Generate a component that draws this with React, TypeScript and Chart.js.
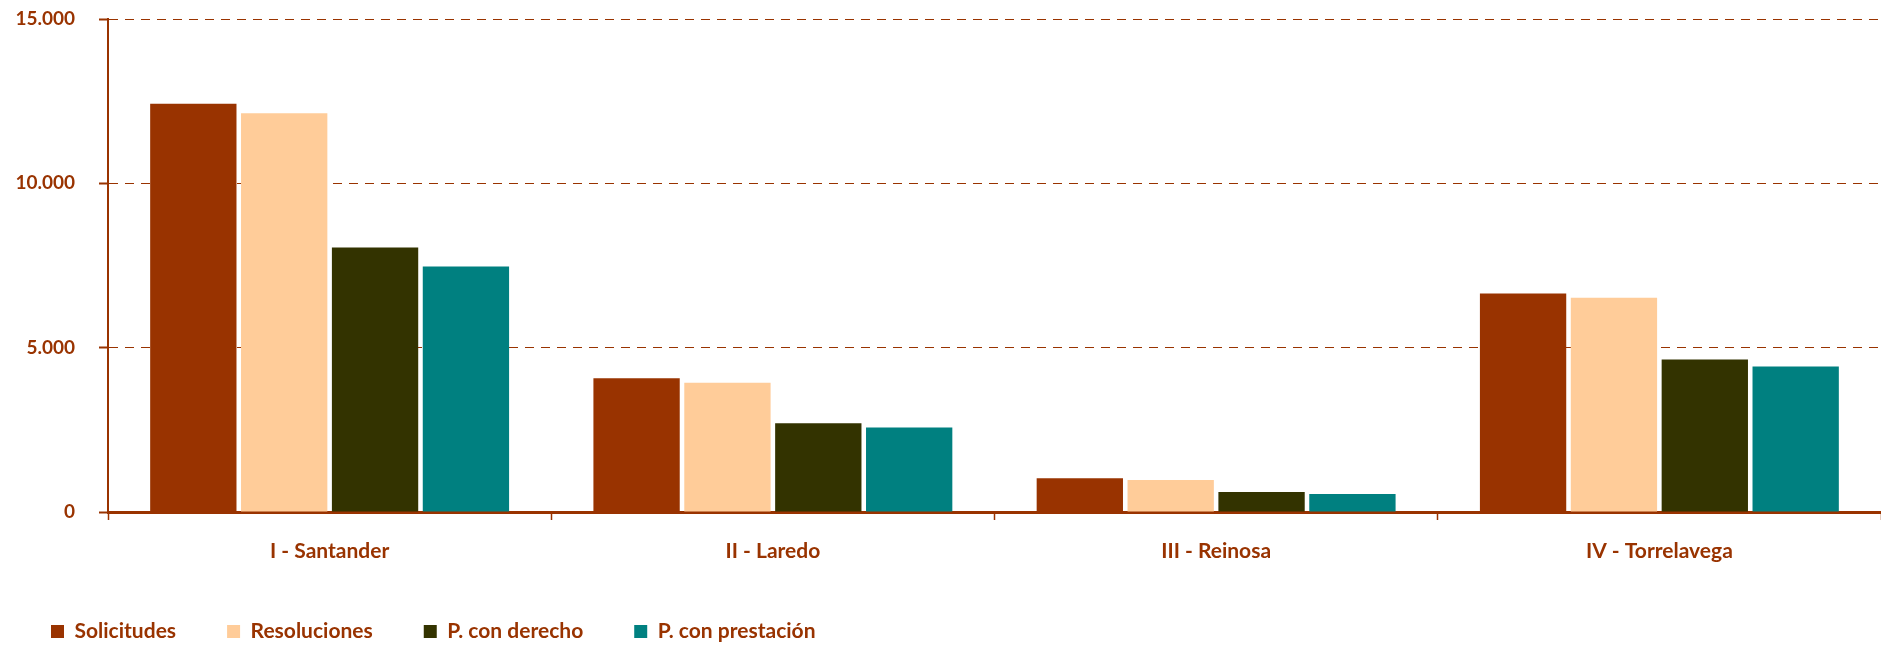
import React, { useEffect, useRef } from 'react';
import { Chart, registerables } from 'chart.js';

Chart.register(...registerables);

const categories = ['I - Santander', 'II - Laredo', 'III - Reinosa', 'IV - Torrelavega'];
const seriesNames = ['Solicitudes', 'Resoluciones', 'P. con derecho', 'P. con prestación'];
const solicitudes = [12420, 4070, 1030, 6650];
const resoluciones = [12130, 3930, 970, 6520];
const conDerecho = [8050, 2700, 610, 4640];
const conPrestacion = [7470, 2570, 550, 4430];
const yMax = 15000;
const yStep = 5000;

const seriesColors = ['#993300', '#FFCC99', '#333300', '#008080'];
const BROWN = '#993300';
const FONT = "Lato, 'Open Sans', sans-serif";

const fmt = (v: number) => String(v).replace(/\B(?=(\d{3})+(?!\d))/g, '.');

export default function App() {
  const ref = useRef<HTMLCanvasElement | null>(null);

  useEffect(() => {
    if (!ref.current) return;
    const values = [solicitudes, resoluciones, conDerecho, conPrestacion];
    const chart = new Chart(ref.current, {
      type: 'bar',
      data: {
        labels: categories,
        datasets: seriesNames.map((name, i) => ({
          label: name,
          data: values[i],
          backgroundColor: seriesColors[i],
          borderWidth: 0,
          barPercentage: 0.95,
          categoryPercentage: 0.82,
        })),
      },
      options: {
        responsive: false,
        animation: false,
        layout: { padding: { top: 19, right: 0, left: 0, bottom: 0 } },
        plugins: {
          tooltip: { enabled: false },
          legend: {
            position: 'bottom',
            align: 'start',
            labels: {
              boxWidth: 13,
              boxHeight: 13,
              padding: 51,
              color: BROWN,
              font: { family: FONT, size: 21, weight: 'bold' },
            },
          },
        },
        scales: {
          x: {
            afterFit: (scale: any) => {
              scale.height = 58;
            },
            grid: {
              display: true,
              drawOnChartArea: false,
              drawTicks: true,
              tickLength: 8,
              tickColor: BROWN,
              tickWidth: 1.5,
              offset: true,
            },
            border: { display: true, color: BROWN, width: 3 },
            ticks: {
              color: BROWN,
              padding: 19,
              font: { family: FONT, size: 21, weight: 'bold' },
            },
          },
          y: {
            min: 0,
            max: yMax,
            afterFit: (scale: any) => {
              scale.width = 108;
              scale.paddingTop = 19;
              scale.paddingBottom = 10;
            },
            grid: {
              color: BROWN,
              lineWidth: 1,
              drawTicks: true,
              tickLength: 9,
              tickColor: BROWN,
              tickWidth: 2,
            },
            border: { display: true, color: BROWN, width: 2, dash: [9, 7] },
            ticks: {
              stepSize: yStep,
              color: BROWN,
              padding: 24,
              font: { family: FONT, size: 19, weight: 'bold' },
              callback: (v: any) => fmt(Number(v)),
            },
          },
        },
      },
    });
    return () => chart.destroy();
  }, []);

  return (
    <div style={{ position: 'absolute', left: 0, top: 0, width: 1881, height: 645, overflow: 'hidden', background: '#ffffff' }}>
      <canvas ref={ref} width={1881} height={652} style={{ display: 'block' }} />
    </div>
  );
}
